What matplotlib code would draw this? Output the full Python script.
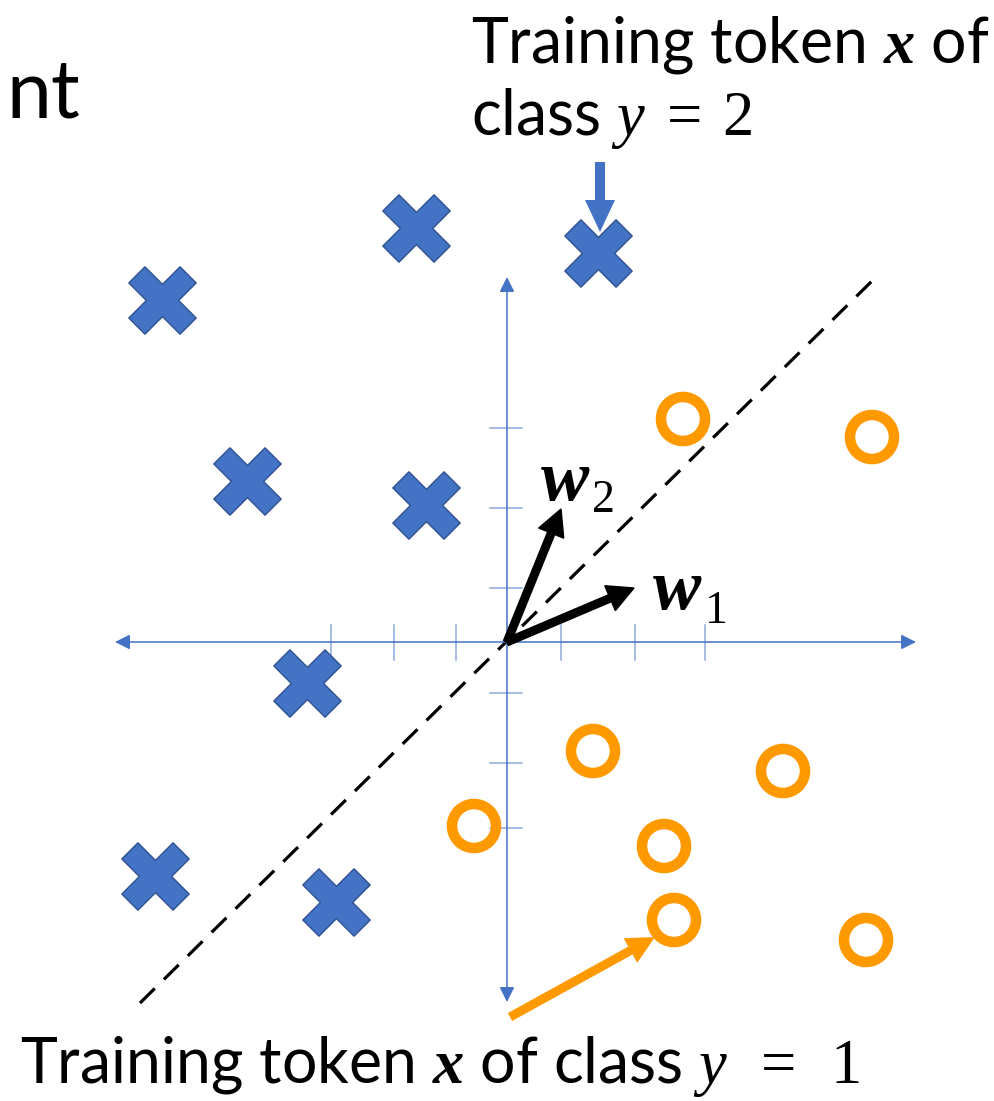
import numpy as np
import matplotlib
matplotlib.use("Agg")
import matplotlib.pyplot as plt
from matplotlib.path import Path

plt.rcParams['font.family'] = ['Lato', 'DejaVu Sans']
plt.rcParams['mathtext.fontset'] = 'custom'
plt.rcParams['mathtext.rm'] = 'Liberation Serif'
plt.rcParams['mathtext.it'] = 'Liberation Serif:italic'
plt.rcParams['mathtext.bf'] = 'Liberation Serif:bold:italic'

# ---- data (units: 1 = 100 px, origin at the axes crossing) ----
class2_x = [-3.45, -0.91, 0.91, -2.60, -0.81, -2.00, -3.52, -1.71]
class2_y = [3.42, 4.14, 3.89, 1.61, 1.37, -0.41, -2.34, -2.60]
class1_x = [1.76, 3.65, 0.86, 2.76, -0.33, 1.57, 1.67, 3.59]
class1_y = [2.23, 2.05, -1.09, -1.29, -1.84, -2.04, -2.78, -2.98]
xticks = [-1.76, -1.13, -0.51, 0.54, 1.28, 1.98]
yticks = [2.14, 1.34, 0.54, -0.51, -1.21, -1.86]
w1 = (1.27, 0.54)
w2 = (0.54, 1.33)
boundary_x = [-3.67, 3.66]
boundary_y = [-3.61, 3.62]

BLUE = '#4472C4'
BLUE_EDGE = '#2F528F'
TICK = '#8EA9DB'
ORANGE = '#FF9900'

fig = plt.figure(figsize=(9.94, 11.01), dpi=100)
ax = fig.add_axes([0, 0, 1, 1])
ax.set_xlim(-5.07, 4.87)
ax.set_ylim(-4.59, 6.42)
ax.axis('off')

# coordinate axes with arrowheads
ax.annotate('', xy=(4.09, 0), xytext=(-3.92, 0),
            arrowprops=dict(arrowstyle='<|-|>,head_length=0.9,head_width=0.45',
                            color=BLUE, lw=1.1, shrinkA=0, shrinkB=0, mutation_scale=10))
ax.annotate('', xy=(0, 3.65), xytext=(0, -3.60),
            arrowprops=dict(arrowstyle='<|-|>,head_length=0.9,head_width=0.45',
                            color=BLUE, lw=1.1, shrinkA=0, shrinkB=0, mutation_scale=10))
for t in xticks:
    ax.plot([t, t], [-0.18, 0.17], color=TICK, lw=1.1, zorder=1)
for t in yticks:
    ax.plot([-0.17, 0.15], [t, t], color=TICK, lw=1.1, zorder=1)

# decision boundary
ax.plot(boundary_x, boundary_y, color='black', lw=2.3, dashes=(6.5, 4), zorder=2)

# cross marker (rotated plus)
w = 0.315
plus = np.array([(w, w), (w, 1), (-w, 1), (-w, w), (-1, w), (-1, -w), (-w, -w),
                 (-w, -1), (w, -1), (w, -w), (1, -w), (1, w), (w, w)])
c, s = np.cos(np.pi / 4), np.sin(np.pi / 4)
rot = plus @ np.array([[c, s], [-s, c]])
codes = [Path.MOVETO] + [Path.LINETO] * (len(rot) - 2) + [Path.CLOSEPOLY]
cross = Path(rot, codes)

ax.scatter(class2_x, class2_y, marker=cross, s=48.5 ** 2, color=BLUE,
           edgecolors=BLUE_EDGE, linewidths=1, zorder=3)
ax.scatter(class1_x, class1_y, marker='o', s=31.7 ** 2, facecolors='none',
           edgecolors=ORANGE, linewidths=7.6, zorder=3)

# weight vectors
for v in (w1, w2):
    ax.arrow(0, 0, v[0], v[1], width=0.075, head_width=0.27, head_length=0.26,
             length_includes_head=True, color='black', zorder=4)
ax.text(1.45, 0.33, r'$\mathbf{w}$', fontsize=52, ha='left', va='baseline')
ax.text(1.98, 0.19, '1', fontsize=33, family='Liberation Serif', ha='left', va='baseline')
ax.text(0.33, 1.42, r'$\mathbf{w}$', fontsize=52, ha='left', va='baseline')
ax.text(0.85, 1.30, '2', fontsize=33, family='Liberation Serif', ha='left', va='baseline')

# pointer arrows
ax.arrow(0.03, -3.75, 1.45, 0.80, width=0.09, head_width=0.28, head_length=0.28,
         length_includes_head=True, color=ORANGE, lw=0, zorder=4)
ax.arrow(0.93, 4.80, 0, -0.70, width=0.10, head_width=0.30, head_length=0.32,
         length_includes_head=True, color=BLUE, lw=0, zorder=4)

# texts (figure pixel positions)
def px(x, y):
    return x / 994, 1 - y / 1101

fig.text(*px(6, 118), 'nt', fontsize=58, ha='left', va='baseline')
fig.text(*px(471, 62), r'Training token $\mathbf{x}$ of', fontsize=45, ha='left', va='baseline')
fig.text(*px(471, 135), r'class $y\;=\;2$', fontsize=45, ha='left', va='baseline')
fig.text(*px(20, 1083), r'Training token $\mathbf{x}$ of class $y\;\;=\;\;1$', fontsize=45,
         ha='left', va='baseline')

fig.savefig('out.png', dpi=100)
